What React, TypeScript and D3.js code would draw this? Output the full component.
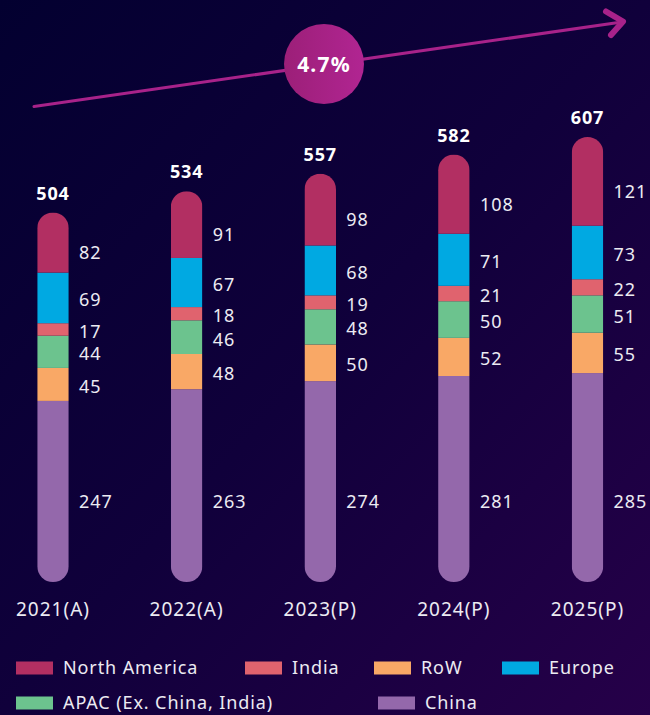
import React from "react";
import * as d3 from "d3";

const years = ["2021(A)", "2022(A)", "2023(P)", "2024(P)", "2025(P)"];
const totals = [504, 534, 557, 582, 607];
const china = [247, 263, 274, 281, 285];
const rowVals = [45, 48, 50, 52, 55];
const apac = [44, 46, 48, 50, 51];
const india = [17, 18, 19, 21, 22];
const europe = [69, 67, 68, 71, 73];
const northAmerica = [82, 91, 98, 108, 121];
const cagrLabel = "4.7%";

const seriesNames = ["China", "RoW", "APAC (Ex. China, India)", "India", "Europe", "North America"];
const seriesValues = [china, rowVals, apac, india, europe, northAmerica];
const seriesColors = ["#9468ab", "#f9a866", "#6cc38e", "#e0636e", "#00a9e2", "#b22f62"];

const legendOrder = ["North America", "India", "RoW", "Europe", "APAC (Ex. China, India)", "China"];

const W = 650;
const H = 715;
const FONT = "'Noto Sans', sans-serif";

export default function App() {
  const x = d3.scalePoint<string>().domain(years).range([53, 587.5]);
  const y = d3.scaleLinear().domain([0, 607]).range([582, 137]);
  const bw = 31.5;

  const table = years.map((yr, i) => {
    const row: any = { year: yr };
    seriesNames.forEach((s, k) => (row[s] = seriesValues[k][i]));
    return row;
  });
  const stack = d3.stack<any>().keys(seriesNames)(table);

  const legendCols = [
    [16, 668], [245, 668], [374, 668], [502, 668],
    [16, 703], [378, 703],
  ];

  return (
    <svg width={W} height={H} style={{ position: "absolute", left: 0, top: 0 }} fontFamily={FONT}>
      <defs>
        <linearGradient id="bg" x1="0" y1="0" x2="1" y2="1">
          <stop offset="0%" stopColor="#030030" />
          <stop offset="50%" stopColor="#10003b" />
          <stop offset="100%" stopColor="#260049" />
        </linearGradient>
        <linearGradient id="circ" x1="0" y1="0" x2="1" y2="0">
          <stop offset="0%" stopColor="#9c1f78" />
          <stop offset="100%" stopColor="#b12592" />
        </linearGradient>
        {years.map((yr, i) => {
          const top = y(d3.sum(seriesValues, (s) => s[i]));
          return (
            <clipPath id={`clip${i}`} key={yr}>
              <rect x={x(yr)! - bw / 2} y={top} width={bw} height={y(0) - top} rx={bw / 2} ry={bw / 2} />
            </clipPath>
          );
        })}
      </defs>
      <rect x={0} y={0} width={W} height={H} fill="url(#bg)" />

      {/* CAGR arrow */}
      <line x1={34} y1={106.5} x2={622} y2={22} stroke="#a8228a" strokeWidth={3} strokeLinecap="round" />
      <polyline points="606,11.5 623,21.5 611,35" fill="none" stroke="#a8228a" strokeWidth={6} strokeLinecap="round" strokeLinejoin="round" />
      <circle cx={324} cy={64} r={40} fill="url(#circ)" />
      <text x={324} y={71.5} textAnchor="middle" fill="#fff" fontSize={21} fontWeight={700} letterSpacing={1.2}>{cagrLabel}</text>

      {/* bars */}
      {years.map((yr, i) => {
        const cx = x(yr)!;
        const topVal = d3.sum(seriesValues, (s) => s[i]);
        return (
          <g key={yr}>
            <g clipPath={`url(#clip${i})`}>
              {stack.map((layer, k) => (
                <rect
                  key={k}
                  x={cx - bw / 2}
                  y={y(layer[i][1])}
                  width={bw}
                  height={y(layer[i][0]) - y(layer[i][1])}
                  fill={seriesColors[k]}
                />
              ))}
            </g>
            {stack.map((layer, k) => {
              let ly: number;
              if (k === 0) ly = y(112);
              else if (k === stack.length - 1) ly = (y(layer[i][1]) + bw / 2 + y(layer[i][0])) / 2;
              else ly = (y(layer[i][1]) + y(layer[i][0])) / 2;
              return (
                <text key={k} x={cx + 26} y={ly + 2} dy="0.36em" fill="#ecebf2" fontSize={18} letterSpacing={1}>
                  {seriesValues[k][i]}
                </text>
              );
            })}
            <text x={cx} y={y(topVal) - 13} textAnchor="middle" fill="#fff" fontSize={18} fontWeight={700} letterSpacing={0.8}>
              {totals[i]}
            </text>
            <text x={cx} y={609} dy="0.36em" textAnchor="middle" fill="#ecebf2" fontSize={19} letterSpacing={1}>
              {yr}
            </text>
          </g>
        );
      })}

      {/* legend */}
      {legendOrder.map((name, j) => {
        const k = seriesNames.indexOf(name);
        const [lx, ly] = legendCols[j];
        return (
          <g key={name}>
            <rect x={lx} y={ly - 6.5} width={37} height={13} fill={seriesColors[k]} />
            <text x={lx + 47} y={ly} dy="0.36em" fill="#ecebf2" fontSize={18} letterSpacing={0.9}>{name}</text>
          </g>
        );
      })}
    </svg>
  );
}
